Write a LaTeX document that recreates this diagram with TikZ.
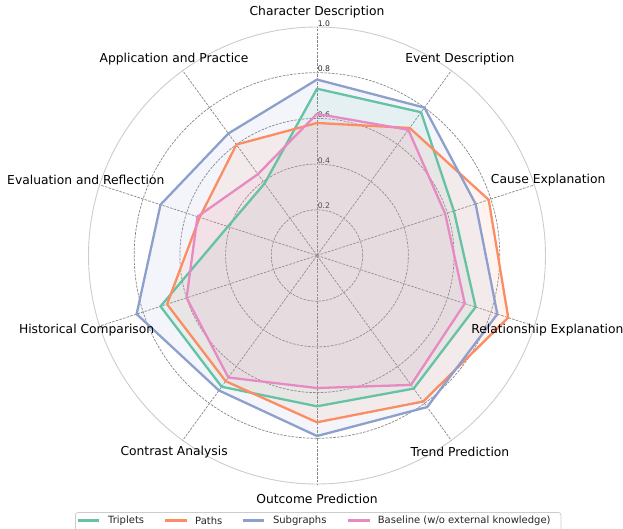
\documentclass[tikz,border=0pt]{standalone}
\usepackage{fontspec}
\setmainfont{DejaVu Sans}

\definecolor{clrTriplets}{HTML}{66C2A5}
\definecolor{clrPaths}{HTML}{FC8D62}
\definecolor{clrSubgraphs}{HTML}{8DA0CB}
\definecolor{clrBaseline}{HTML}{E78AC3}

\tikzset{
  ring/.style      = {draw=gray!95, line width=0.7pt, dash pattern=on 2.6pt off 1.2pt},
  spoke/.style     = {draw=gray!95, line width=0.7pt, dash pattern=on 2.6pt off 1.2pt},
  rim/.style       = {draw=black!20, line width=0.9pt},
  ticklabel/.style = {font=\fontsize{7.7}{9}\selectfont, text=black!85, anchor=south west, inner sep=0.6pt},
  axislabel/.style = {font=\fontsize{12.3}{14}\selectfont, inner sep=0pt},
  series/.style    = {line width=2.3pt, line join=round},
  shade/.style     = {fill opacity=.1},
  legendtext/.style= {font=\fontsize{10}{12}\selectfont, text=black!85, anchor=west, inner sep=0pt},
  legendbox/.style = {draw=black!20, line width=0.8pt, rounded corners=2.5pt, fill=white}
}

\begin{document}
\begin{tikzpicture}[x=228.5pt,y=228.5pt]
\useasboundingbox (-1.3873,-1.1969) rectangle (1.3392,1.1182);

\coordinate (O) at (0,0);

% grid
\draw[ring] (O) circle (0.2);
\draw[ring] (O) circle (0.4);
\draw[ring] (O) circle (0.6);
\draw[ring] (O) circle (0.8);
\draw[rim]  (O) circle (1);

\draw[spoke] (O) -- (90:1);
\draw[spoke] (O) -- (54:1);
\draw[spoke] (O) -- (18:1);
\draw[spoke] (O) -- (-18:1);
\draw[spoke] (O) -- (-54:1);
\draw[spoke] (O) -- (-90:1);
\draw[spoke] (O) -- (-126:1);
\draw[spoke] (O) -- (-162:1);
\draw[spoke] (O) -- (162:1);
\draw[spoke] (O) -- (126:1);

\node[ticklabel] (r2)  at (90:0.2) {0.2};
\node[ticklabel] (r4)  at (90:0.4) {0.4};
\node[ticklabel] (r6)  at (90:0.6) {0.6};
\node[ticklabel] (r8)  at (90:0.8) {0.8};
\node[ticklabel] (r10) at (90:1.0) {1.0};

% Triplets
\coordinate (T0) at (90:0.73);
\coordinate (T1) at (54:0.775);
\coordinate (T2) at (18:0.63);
\coordinate (T3) at (-18:0.73);
\coordinate (T4) at (-54:0.72);
\coordinate (T5) at (-90:0.66);
\coordinate (T6) at (-126:0.71);
\coordinate (T7) at (-162:0.72);
\coordinate (T8) at (162:0.41);
\coordinate (T9) at (126:0.39);

% Paths
\coordinate (P0) at (90:0.58);
\coordinate (P1) at (54:0.69);
\coordinate (P2) at (18:0.79);
\coordinate (P3) at (-18:0.88);
\coordinate (P4) at (-54:0.79);
\coordinate (P5) at (-90:0.73);
\coordinate (P6) at (-126:0.68);
\coordinate (P7) at (-162:0.69);
\coordinate (P8) at (162:0.54);
\coordinate (P9) at (126:0.60);

% Subgraphs
\coordinate (S0) at (90:0.77);
\coordinate (S1) at (54:0.80);
\coordinate (S2) at (18:0.73);
\coordinate (S3) at (-18:0.83);
\coordinate (S4) at (-54:0.82);
\coordinate (S5) at (-90:0.79);
\coordinate (S6) at (-126:0.73);
\coordinate (S7) at (-162:0.83);
\coordinate (S8) at (162:0.72);
\coordinate (S9) at (126:0.66);

% Baseline
\coordinate (B0) at (90:0.62);
\coordinate (B1) at (54:0.68);
\coordinate (B2) at (18:0.59);
\coordinate (B3) at (-18:0.68);
\coordinate (B4) at (-54:0.70);
\coordinate (B5) at (-90:0.58);
\coordinate (B6) at (-126:0.66);
\coordinate (B7) at (-162:0.60);
\coordinate (B8) at (162:0.55);
\coordinate (B9) at (126:0.44);

\fill[clrTriplets, shade]  (T0) -- (T1) -- (T2) -- (T3) -- (T4) -- (T5) -- (T6) -- (T7) -- (T8) -- (T9) -- cycle;
\fill[clrPaths, shade]     (P0) -- (P1) -- (P2) -- (P3) -- (P4) -- (P5) -- (P6) -- (P7) -- (P8) -- (P9) -- cycle;
\fill[clrSubgraphs, shade] (S0) -- (S1) -- (S2) -- (S3) -- (S4) -- (S5) -- (S6) -- (S7) -- (S8) -- (S9) -- cycle;
\fill[clrBaseline, shade]  (B0) -- (B1) -- (B2) -- (B3) -- (B4) -- (B5) -- (B6) -- (B7) -- (B8) -- (B9) -- cycle;

\draw[clrTriplets, series]  (T0) -- (T1) -- (T2) -- (T3) -- (T4) -- (T5) -- (T6) -- (T7) -- (T8) -- (T9) -- cycle;
\draw[clrPaths, series]     (P0) -- (P1) -- (P2) -- (P3) -- (P4) -- (P5) -- (P6) -- (P7) -- (P8) -- (P9) -- cycle;
\draw[clrSubgraphs, series] (S0) -- (S1) -- (S2) -- (S3) -- (S4) -- (S5) -- (S6) -- (S7) -- (S8) -- (S9) -- cycle;
\draw[clrBaseline, series]  (B0) -- (B1) -- (B2) -- (B3) -- (B4) -- (B5) -- (B6) -- (B7) -- (B8) -- (B9) -- cycle;

% axis labels
\node[axislabel] (character)   at (90:1.064)   {Character Description};
\node[axislabel] (event)       at (54:1.064)   {Event Description};
\node[axislabel] (cause)       at (18:1.064)   {Cause Explanation};
\node[axislabel] (relation)    at (-18:1.06)   {Relationship Explanation};
\node[axislabel] (trend)       at (-54:1.064)  {Trend Prediction};
\node[axislabel] (outcome)     at (-90:1.064)  {Outcome Prediction};
\node[axislabel] (contrast)    at (-126:1.064) {Contrast Analysis};
\node[axislabel] (historical)  at (-162:1.06)  {Historical Comparison};
\node[axislabel] (evaluation)  at (162:1.064)  {Evaluation and Reflection};
\node[axislabel] (application) at (126:1.064)  {Application and Practice};

% legend
\draw[legendbox] (-1.0569,-1.1969) |- (1.0678,-1.1247) -- (1.0678,-1.1969);

\draw[clrTriplets, series]  (-1.0446,-1.1597) -- (-0.9523,-1.1597);
\node[legendtext] (leg1) at (-0.9147,-1.1597) {Triplets};
\draw[clrPaths, series]     (-0.6652,-1.1597) -- (-0.5689,-1.1597);
\node[legendtext] (leg2) at (-0.5339,-1.1597) {Paths};
\draw[clrSubgraphs, series] (-0.3260,-1.1597) -- (-0.2302,-1.1597);
\node[legendtext] (leg3) at (-0.1934,-1.1597) {Subgraphs};
\draw[clrBaseline, series]  (0.1357,-1.1597) -- (0.2319,-1.1597);
\node[legendtext] (leg4) at (0.2656,-1.1597) {Baseline (w/o external knowledge)};

\end{tikzpicture}
\end{document}
